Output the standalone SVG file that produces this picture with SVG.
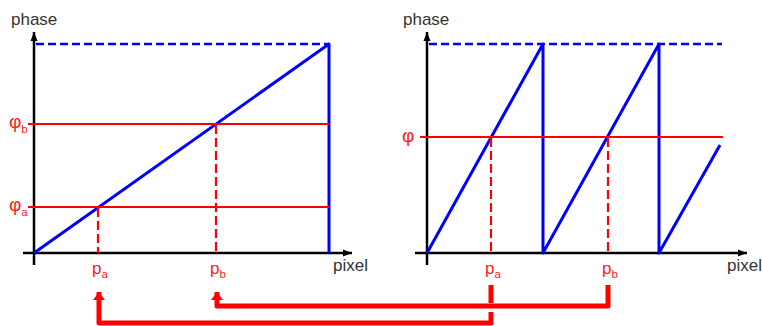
<svg xmlns="http://www.w3.org/2000/svg" width="762" height="326" viewBox="0 0 762 326">
<defs>
<style>
text{font-family:"Liberation Sans",Arial,sans-serif;}
.lbl{font-size:17px;fill:#333;}
.rl{font-size:17px;fill:#ff2020;}
.phi{font-size:19px;}
.sub{font-size:11.5px;}
.axis{stroke:#000;stroke-width:2.5;fill:none;}
.blue{stroke:#0000ff;stroke-width:3;fill:none;stroke-linejoin:round;}
.bdash{stroke:#0000ff;stroke-width:2.5;fill:none;stroke-dasharray:8,4;}
.red{stroke:#ff0000;stroke-width:2.2;fill:none;}
.rdash{stroke:#ff0000;stroke-width:2.2;fill:none;stroke-dasharray:9,4;}
.conn{stroke:#ff0000;stroke-width:5;fill:none;stroke-linejoin:round;}
</style>
<marker id="ax" markerUnits="userSpaceOnUse" markerWidth="10" markerHeight="10" viewBox="0 0 10 10" refX="9" refY="5" orient="auto">
<path d="M0,1.5 L9,5 L0,8.5 Z" fill="#000"/>
</marker>
<marker id="ra" markerUnits="userSpaceOnUse" markerWidth="14" markerHeight="14" viewBox="0 0 14 14" refX="8" refY="7" orient="auto">
<path d="M0,1 L8,7 L0,13 Z" fill="#ff0000"/>
</marker>
</defs>

<g id="left-chart">
<line class="axis" x1="34" y1="265" x2="34" y2="32" marker-end="url(#ax)"/>
<line class="axis" x1="23" y1="253" x2="352" y2="253" marker-end="url(#ax)"/>
<line class="bdash" x1="36" y1="44" x2="329" y2="44"/>
<polyline class="blue" points="34,253 329,44 329,253"/>
<line class="red" x1="28" y1="124" x2="329" y2="124"/>
<line class="red" x1="28" y1="207" x2="329" y2="207"/>
<line class="rdash" x1="98" y1="208" x2="98" y2="253"/>
<line class="rdash" x1="216" y1="125" x2="216" y2="253"/>
<text class="lbl" x="11" y="25">phase</text>
<text class="lbl" x="333" y="271">pixel</text>
<text class="rl phi" x="9" y="128">φ<tspan class="sub" dy="5">b</tspan></text>
<text class="rl phi" x="9" y="211">φ<tspan class="sub" dy="5">a</tspan></text>
<text class="rl" x="92" y="274">p<tspan class="sub" dy="4">a</tspan></text>
<text class="rl" x="210" y="274">p<tspan class="sub" dy="4">b</tspan></text>
</g>

<g id="right-chart">
<line class="axis" x1="427" y1="265" x2="427" y2="32" marker-end="url(#ax)"/>
<line class="axis" x1="415" y1="253" x2="747" y2="253" marker-end="url(#ax)"/>
<line class="bdash" x1="429" y1="44" x2="722" y2="44"/>
<polyline class="blue" points="427,253 543,44 543,253 659,44 659,253 720,145"/>
<line class="red" x1="420" y1="137" x2="723" y2="137"/>
<line class="rdash" x1="491" y1="138" x2="491" y2="253"/>
<line class="rdash" x1="608" y1="138" x2="608" y2="253"/>
<text class="lbl" x="403" y="25">phase</text>
<text class="lbl" x="727" y="271">pixel</text>
<text class="rl phi" x="402" y="142">φ</text>
<text class="rl" x="485" y="274">p<tspan class="sub" dy="4">a</tspan></text>
<text class="rl" x="602" y="274">p<tspan class="sub" dy="4">b</tspan></text>
</g>

<g id="connectors">
<path class="conn" d="M491,285 V303 M491,312 V323 H99 V292" marker-end="url(#ra)"/>
<path class="conn" d="M608,285 V306 H217 V292" marker-end="url(#ra)"/>
</g>
</svg>
